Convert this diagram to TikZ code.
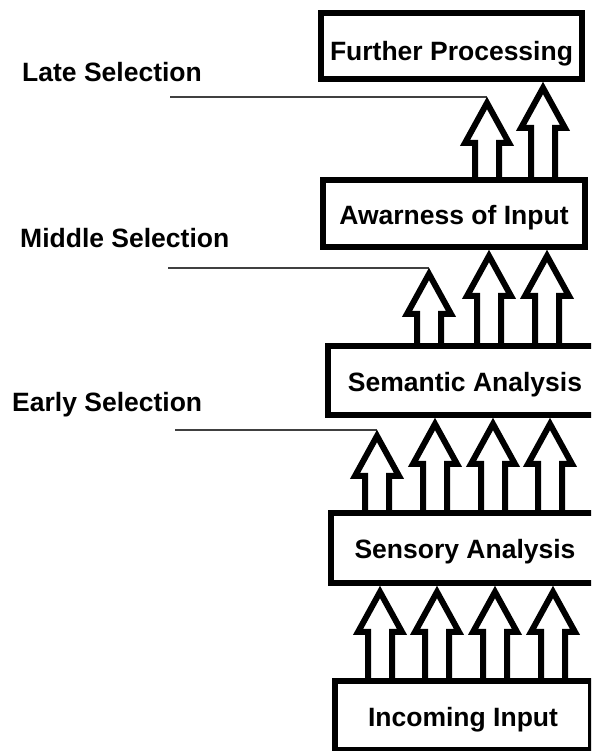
\documentclass[tikz,border=0pt]{standalone}
\usepackage{fontspec}
\setmainfont{Liberation Sans}
\usetikzlibrary{positioning,calc}
\tikzset{stage/.style={draw=black,line width=6pt,fill=white,inner sep=0pt,anchor=north west,
           text height=22pt,text depth=0pt,font=\fontsize{26.5}{30}\selectfont\bfseries},
         hollow/.style={draw=black,fill=white,line width=6pt,line join=miter},
         selline/.style={draw=black!75,line width=1.6pt},
         sellabel/.style={anchor=base west,inner sep=0pt,font=\fontsize{26.5}{30}\selectfont\bfseries}}
% hollow block arrow: x position, box it rises from, point its tip touches
\newcommand\blockup[3]{%
  \draw[hollow] let \p1=(#2.north), \p2=(#3), \p3=(#1,0) in
    (\x3-12,\y1) -- (\x3-12,\y2-46) -- (\x3-22,\y2-46) -- (\x3,\y2-6)
    -- (\x3+22,\y2-46) -- (\x3+12,\y2-46) -- (\x3+12,\y1);}

\begin{document}
\begin{tikzpicture}[x=1pt,y=1pt]
\path[use as bounding box,clip] (0,0) rectangle (591,751);
% processing stages, top to bottom
\node[stage,minimum width=261,minimum height=66,text height=30pt] (further) at (318,741) {Further Processing};
\node[stage,minimum width=262,minimum height=67] (awareness) at ([xshift=2,yshift=-95]further.south west) {Awarness of Input};
\node[stage,minimum width=274,minimum height=69] (semantic) at ([xshift=5,yshift=-93]awareness.south west) {Semantic Analysis};
\node[stage,minimum width=268,minimum height=70] (sensory) at ([xshift=3,yshift=-92]semantic.south west) {Sensory Analysis};
\node[stage,minimum width=256,minimum height=69] (incoming) at ([xshift=4,yshift=-92]sensory.south west) {Incoming Input};
% where selection may happen
\node[sellabel] (latelbl) at (22,669) {Late Selection};
\node[sellabel] (middlelbl) at (20,503) {Middle Selection};
\node[sellabel] (earlylbl) at (12,339) {Early Selection};
\coordinate (latefrom) at (170,654);   \coordinate (lateto) at (487,654);
\coordinate (middlefrom) at (168,483); \coordinate (middleto) at (429,483);
\coordinate (earlyfrom) at (175,321);  \coordinate (earlyto) at (377,321);
\draw[selline] (latefrom) -- (lateto);
\draw[selline] (middlefrom) -- (middleto);
\draw[selline] (earlyfrom) -- (earlyto);
% flow between stages
\foreach \ax in {380,437,495,553} {\blockup{\ax}{incoming}{sensory.south}}
\blockup{377}{sensory}{earlyto}
\foreach \ax in {435,493,550} {\blockup{\ax}{sensory}{semantic.south}}
\blockup{429}{semantic}{middleto}
\foreach \ax in {489,547} {\blockup{\ax}{semantic}{awareness.south}}
\blockup{487}{awareness}{lateto}
\blockup{543}{awareness}{further.south}
\end{tikzpicture}
\end{document}
